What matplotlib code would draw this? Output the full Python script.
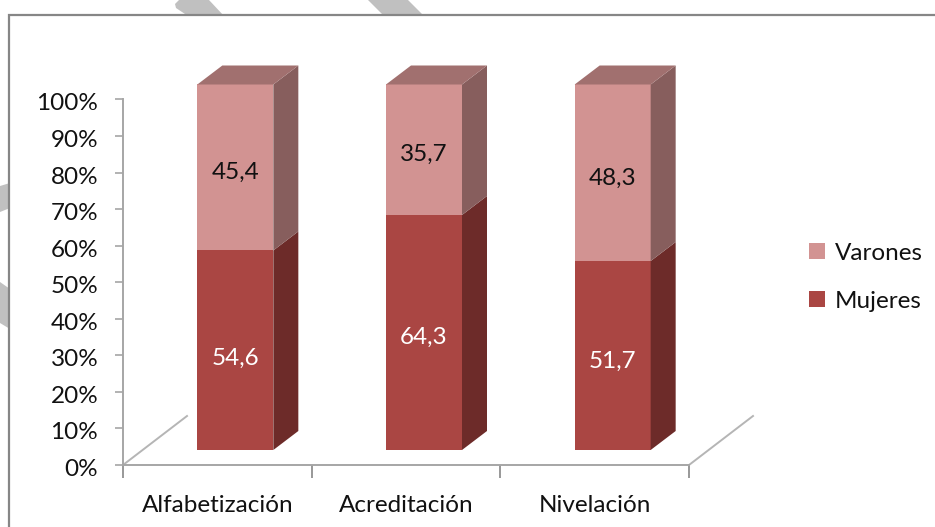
import matplotlib
matplotlib.use("Agg")
import matplotlib.pyplot as plt
from matplotlib.patches import Polygon, Rectangle
from matplotlib.transforms import Affine2D

plt.rcParams['font.family'] = ['Lato', 'DejaVu Sans']

categorias = ['Alfabetización', 'Acreditación', 'Nivelación']
mujeres = [54.6, 64.3, 51.7]
varones = [45.4, 35.7, 48.3]
ticks_y = [0, 10, 20, 30, 40, 50, 60, 70, 80, 90, 100]

W, H = 935, 527
fs = 17.5
# cores
c_muj, c_muj_lado = '#aa4643', '#6d2b29'
c_var, c_var_lado = '#d29392', '#875e5d'
c_var_topo = '#a1706f'
c_eixo = '#a6a6a6'
c_texto = '#111111'

fig = plt.figure(figsize=(W/100, H/100), dpi=100)

# faixas cinzas atras da moldura
bg = fig.add_axes([0, 0, 1, 1])
bg.set_xlim(0, W)
bg.set_ylim(H, 0)
bg.axis('off')
for p in [[(175, 4), (179, 0), (209, 0), (224, 16), (188, 16), (176, 8)],
          [(368, 0), (408, 0), (424, 16), (384, 16)],
          [(0, 186), (10, 183), (10, 208), (0, 212)],
          [(0, 282), (10, 289), (10, 329), (0, 323)]]:
    bg.add_patch(Polygon(p, closed=True, fc='#c0c0c0', ec='none'))
bg.add_patch(Rectangle((9, 15), W, H, fc='white', ec='#868686', lw=1.6))

# eixo principal em pixels: x 123-689, y 465-99.5
ax = fig.add_axes([123/W, 1-465/H, (689-123)/W, 365.5/H])
ax.set_xlim(0, 3)
ax.set_ylim(0, 100)
ax.patch.set_alpha(0)

for s in ['top', 'right']:
    ax.spines[s].set_visible(False)
for s in ['left', 'bottom']:
    ax.spines[s].set_color(c_eixo)
    ax.spines[s].set_linewidth(1.4)

ax.set_yticks(ticks_y)
ax.set_yticklabels([str(t) + '%' for t in ticks_y], fontsize=fs, color=c_texto)
ax.set_xticks([0, 1, 2, 3])
ax.set_xticklabels([])
ax.tick_params(axis='y', length=5.8, width=1.2, color=c_eixo, pad=12)
ax.tick_params(axis='x', length=9, width=1.2, color='#868686')
for lab in ax.get_yticklabels():
    lab.set_transform(lab.get_transform() + Affine2D().translate(0, -2.5))

px_x = 3.0/(689-123)
px_y = 100.0/365.5
largura = 76*px_x
dx, dy = 25*px_x, 19*px_y   # profundidade
tr = ax.transData + Affine2D().translate(18, 15)   # frente das barras em relacao ao chao

# chao
ax.plot([0, 64*px_x], [0, 49*px_y], color='#b5b5b5', lw=1.4, clip_on=False)
ax.plot([3, 3+64*px_x], [0, 49*px_y], color='#b5b5b5', lw=1.4, clip_on=False)

# ajuste vertical dos rotulos, em pixels
aj_muj = [8, 5, 6]
aj_var = [5, 5, 6]

for i in range(len(categorias)):
    x0 = i + 0.5 - largura/2
    x1 = x0 + largura
    m = mujeres[i]
    t = m + varones[i]

    ax.bar(x0, m, largura, align='edge', color=c_muj, transform=tr, clip_on=False, zorder=3)
    ax.bar(x0, varones[i], largura, bottom=m, align='edge', color=c_var, transform=tr, clip_on=False, zorder=3)

    ax.add_patch(Polygon([(x1, 0), (x1+dx, dy), (x1+dx, m+dy), (x1, m)], fc=c_muj_lado, ec='none',
                         transform=tr, clip_on=False, zorder=3))
    ax.add_patch(Polygon([(x1, m), (x1+dx, m+dy), (x1+dx, t+dy), (x1, t)], fc=c_var_lado, ec='none',
                         transform=tr, clip_on=False, zorder=3))
    ax.add_patch(Polygon([(x0, t), (x0+dx, t+dy), (x1+dx, t+dy), (x1, t)], fc=c_var_topo, ec='none',
                         transform=tr, clip_on=False, zorder=3))

    ax.text(i+0.5, m/2 - aj_muj[i]*px_y, str(m).replace('.', ','), color='white', fontsize=fs,
            ha='center', va='center', transform=tr, zorder=4)
    ax.text(i+0.5, m + varones[i]/2 - aj_var[i]*px_y, str(varones[i]).replace('.', ','), color=c_texto,
            fontsize=fs, ha='center', va='center', transform=tr, zorder=4)
    ax.text(i+0.5, -11, categorias[i], color=c_texto, fontsize=fs, ha='center', va='center')

# legenda
for y, c, nome in [(251, c_var, 'Varones'), (299, c_muj, 'Mujeres')]:
    bg.add_patch(Rectangle((809, y-8), 16, 16, fc=c, ec='none'))
    bg.text(835, y+3, nome, fontsize=fs, color=c_texto, va='center', ha='left')

fig.savefig('out.png', dpi=100)
